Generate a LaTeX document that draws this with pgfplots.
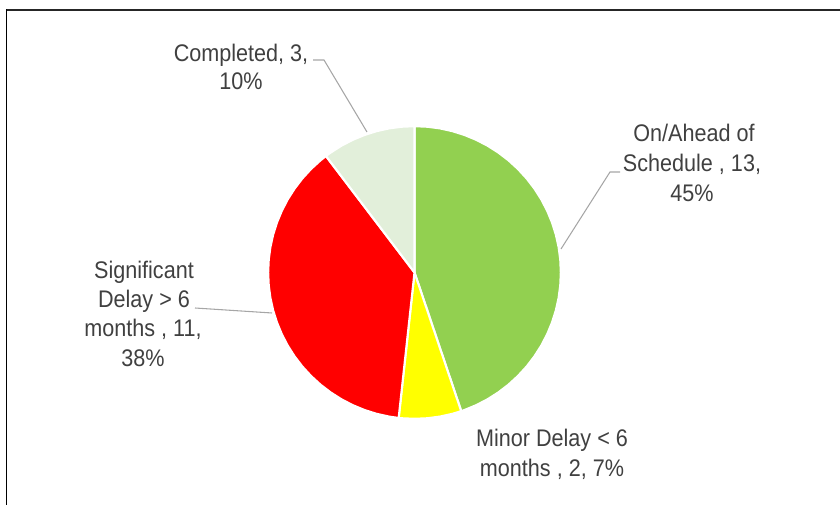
\documentclass[border=0pt]{standalone}
\usepackage{fontspec}
\setmainfont{Liberation Sans}[FakeStretch=0.9]
\usepackage{pgfplots}
\pgfplotsset{compat=1.18}

\definecolor{ontime}{HTML}{92D050}
\definecolor{minor}{HTML}{FFFF00}
\definecolor{signif}{HTML}{FF0000}
\definecolor{done}{HTML}{E2EFDA}
\definecolor{lbl}{HTML}{404040}
\definecolor{leader}{HTML}{A6A6A6}

\begin{document}
\begin{tikzpicture}[x=0.75pt,y=-0.75pt]
\path[use as bounding box] (0,0) rectangle (840,505);

% counts: on/ahead 13, minor 2, significant 11, completed 3 (total 29)
% slices start at 12 o'clock and run clockwise (angle, radius)
\begin{axis}[
    at={(310.875pt,-204.375pt)}, anchor=center,
    scale only axis, width=219.5pt, height=219.5pt,
    xmin=-1, xmax=1, ymin=-1, ymax=1,
    hide axis, clip=false,
    data cs=polar,
    every axis plot/.append style={draw=white, line width=1.6pt, line join=round},
]
\addplot[fill=ontime] coordinates {
    (0,0) (90,1) (85,1) (80,1) (75,1) (70,1) (65,1) (60,1) (55,1) (50,1)
    (45,1) (40,1) (35,1) (30,1) (25,1) (20,1) (15,1) (10,1) (5,1) (0,1)
    (-5,1) (-10,1) (-15,1) (-20,1) (-25,1) (-30,1) (-35,1) (-40,1) (-45,1)
    (-50,1) (-55,1) (-60,1) (-65,1) (-70,1) (-71.38,1)
} -- cycle;
\addplot[fill=minor] coordinates {
    (0,0) (-71.38,1) (-75,1) (-80,1) (-85,1) (-90,1) (-95,1) (-96.21,1)
} -- cycle;
\addplot[fill=signif] coordinates {
    (0,0) (-96.21,1) (-100,1) (-105,1) (-110,1) (-115,1) (-120,1) (-125,1)
    (-130,1) (-135,1) (-140,1) (-145,1) (-150,1) (-155,1) (-160,1) (-165,1)
    (-170,1) (-175,1) (-180,1) (-185,1) (-190,1) (-195,1) (-200,1) (-205,1)
    (-210,1) (-215,1) (-220,1) (-225,1) (-230,1) (-232.76,1)
} -- cycle;
\addplot[fill=done] coordinates {
    (0,0) (-232.76,1) (-235,1) (-240,1) (-245,1) (-250,1) (-255,1) (-260,1)
    (-265,1) (-270,1)
} -- cycle;
\end{axis}

% frame
\draw[line width=1.5pt, color=black!85] (6,10) -- (840,10);
\draw[line width=1.1pt, color=black] (6.3,9.3) -- (6.3,505);

% leader lines
\draw[leader, line width=0.8pt] (313,60) -- (324,60) -- (367,132);
\draw[leader, line width=0.8pt] (620,172) -- (610,172) -- (561,249);
\draw[leader, line width=0.8pt] (195,308) -- (272,313);

% data labels
\begin{scope}[every node/.style={anchor=base, inner sep=0pt, text=lbl,
    font=\fontsize{18}{21}\selectfont}]
\node at (241,62) {Completed, 3,};
\node at (241,90) {10\%};
\node at (694,142) {On/Ahead of};
\node at (692,172) {Schedule , 13,};
\node at (692,202) {45\%};
\node at (144,279) {Significant};
\node at (144,308) {Delay > 6};
\node at (143,337) {months , 11,};
\node at (143,367) {38\%};
\node at (552,447) {Minor Delay < 6};
\node at (552,477) {months , 2, 7\%};
\end{scope}
\end{tikzpicture}
\end{document}
